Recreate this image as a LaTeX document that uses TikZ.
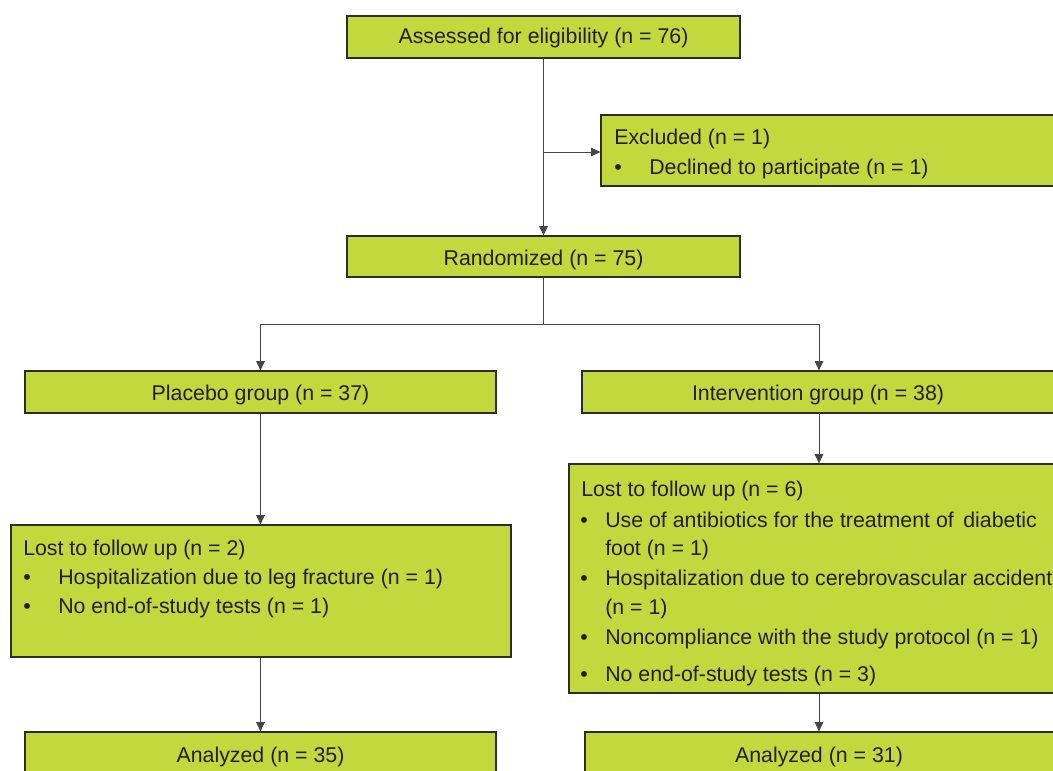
\documentclass[tikz,border=0pt]{standalone}
\usepackage{fontspec}
\setmainfont{Liberation Sans}
\usetikzlibrary{arrows.meta}
\definecolor{boxfill}{RGB}{194,217,62}
\definecolor{boxline}{RGB}{45,45,45}
\definecolor{txt}{RGB}{35,31,32}
\definecolor{conn}{RGB}{70,70,70}
\begin{document}
\begin{tikzpicture}[x=0.75pt,y=-0.75pt,
  box/.style={draw=boxline,fill=boxfill,line width=0.9pt,inner sep=0pt,text=txt},
  fnt/.style={inner sep=0pt,text=txt,font=\fontsize{16}{19}\selectfont},
  lbl/.style={fnt,yshift=-1.5pt},
  lt/.style={lbl,anchor=west},
  bul/.style={fnt,anchor=base},
  arr/.style={draw=conn,line width=0.7pt,-{Triangle[length=7pt,width=6.5pt]}},
  ln/.style={draw=conn,line width=0.7pt}]
\useasboundingbox (0,0) rectangle (1053,771);
\clip (0,0) rectangle (1053,771);
\fill[white] (0,0) rectangle (1053,771);
% boxes
\node[box,minimum width=393*0.75pt,minimum height=42*0.75pt] (assess) at (543.5,37) {};
\node[box,minimum width=459*0.75pt,minimum height=71*0.75pt] (excl) at (830.5,150.5) {};
\node[box,minimum width=393*0.75pt,minimum height=41*0.75pt] (rand) at (543.5,256.5) {};
\node[box,minimum width=471*0.75pt,minimum height=42*0.75pt] (plac) at (260.5,392) {};
\node[box,minimum width=474*0.75pt,minimum height=42*0.75pt] (interv) at (819,392) {};
\node[box,minimum width=500*0.75pt,minimum height=132*0.75pt] (plost) at (261,591) {};
\node[box,minimum width=493*0.75pt,minimum height=229*0.75pt] (ilost) at (815.5,578.5) {};
\node[box,minimum width=471*0.75pt,minimum height=44*0.75pt] (pan) at (260.5,754) {};
\node[box,minimum width=471*0.75pt,minimum height=44*0.75pt] (ian) at (820.5,754) {};
% centred texts
\node[lbl] (tassess) at (543.5,36) {Assessed for eligibility (n = 76)};
\node[lbl] (trand) at (543.5,258) {Randomized (n = 75)};
\node[lbl] (tplac) at (260.5,393) {Placebo group (n = 37)};
\node[lbl] (tinterv) at (818,393) {Intervention group (n = 38)};
\node[lbl] (tpan) at (260.5,755) {Analyzed (n = 35)};
\node[lbl] (tian) at (819,755) {Analyzed (n = 31)};
% excluded
\node[lt] (e0) at (614,137) {Excluded (n = 1)};
\node[lt] (e1) at (649,167) {Declined to participate (n = 1)};
\node[bul] (eb1) at (618,0 |- e1.base) {•};
% placebo lost
\node[lt] (p0) at (23,548) {Lost to follow up (n = 2)};
\node[lt] (p1) at (58,577) {Hospitalization due to leg fracture (n = 1)};
\node[bul] (pb1) at (27,0 |- p1.base) {•};
\node[lt] (p2) at (58,606) {No end-of-study tests (n = 1)};
\node[bul] (pb2) at (27,0 |- p2.base) {•};
% intervention lost
\node[lt] (i0) at (581,489) {Lost to follow up (n = 6)};
\node[lt] (i1) at (605,518) {Use of antibiotics for the treatment of\, diabetic};
\node[bul] (ib1) at (584,0 |- i1.base) {•};
\node[lt] (i1b) at (605,548) {foot (n = 1)};
\node[lt] (i2) at (605,578) {Hospitalization due to cerebrovascular accident};
\node[bul] (ib2) at (584,0 |- i2.base) {•};
\node[lt] (i2b) at (605,607) {(n = 1)};
\node[lt] (i3) at (605,637) {Noncompliance with the study protocol (n = 1)};
\node[bul] (ib3) at (584,0 |- i3.base) {•};
\node[lt] (i4) at (605,674) {No end-of-study tests (n = 3)};
\node[bul] (ib4) at (584,0 |- i4.base) {•};
% connectors
\coordinate (j1) at (543.5,152);
\coordinate (j2) at (543.5,324);
\coordinate (jr) at (819,413);
\draw[arr] (assess.south) -- (rand.north);
\draw[arr] (j1) -- (j1 -| excl.west);
\draw[ln] (rand.south) -- (j2);
\draw[arr] (j2) -| (plac.north);
\draw[arr] (j2) -| (interv.north);
\draw[arr] (plac.south) -- (plac.south |- plost.north);
\draw[arr] (plac.south |- plost.south) -- (plac.south |- pan.north);
\draw[arr] (jr) -- (jr |- ilost.north);
\draw[arr] (jr |- ilost.south) -- (jr |- ian.north);
\end{tikzpicture}
\end{document}
